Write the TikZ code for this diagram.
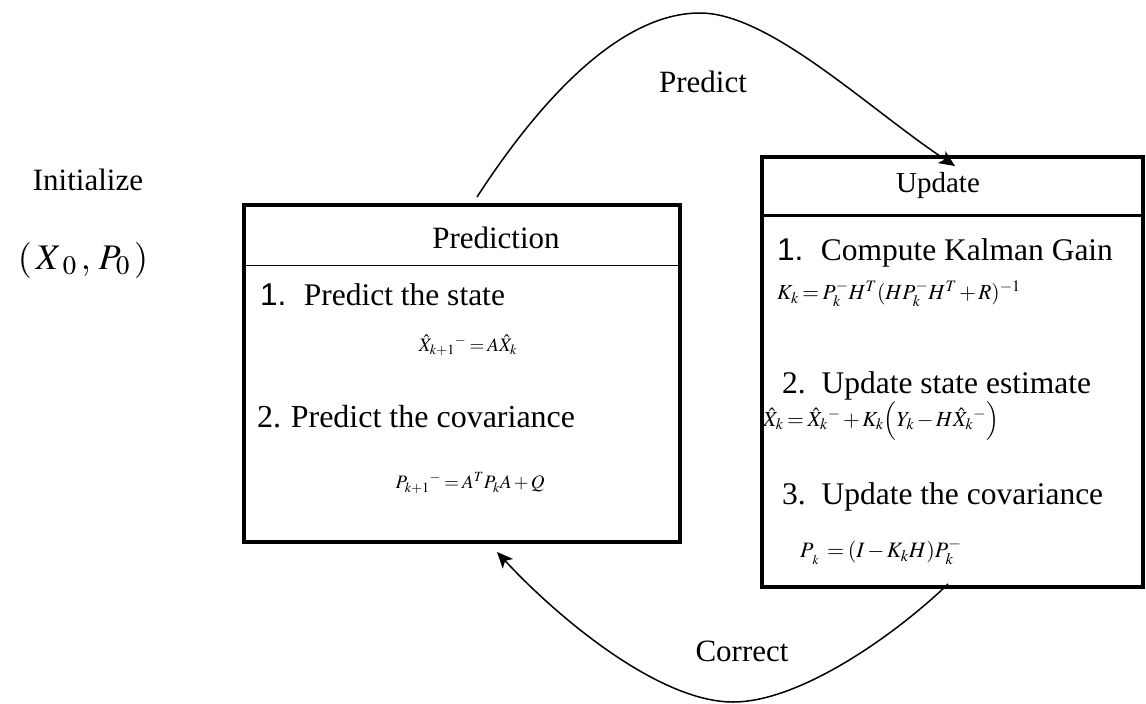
\documentclass[tikz,border=0pt]{standalone}
\usepackage{mathptmx}
\usepackage{fontspec}
\setmainfont{Liberation Serif}
\newfontfamily\arialfont{Liberation Sans}
\usetikzlibrary{arrows.meta,positioning}
\newcommand\tightmath{\medmuskip=2mu\relax\thickmuskip=3mu\relax}
\tikzset{
  >={Stealth[length=16pt,width=14pt,inset=4pt]},
  kbox/.style={draw=black, line width=3.5pt, inner sep=0pt},
  ktitle/.style={font=\fontsize{31}{36}\selectfont, inner sep=0pt},
  kitem/.style={font=\fontsize{31.5}{36}\selectfont, inner sep=0pt, anchor=west},
  keq/.style={font=\fontsize{19}{22}\selectfont, inner sep=0pt},
  kflow/.style={->, line width=1.5pt},
  klbl/.style={font=\fontsize{31}{36}\selectfont, inner sep=0pt},
}

\begin{document}
\begin{tikzpicture}[x=1pt,y=-1pt]

  \useasboundingbox (0,0) rectangle (1146,704);

  % initial values
  \node[klbl] (init) at (88,180) {Initialize};
  \node[klbl, font=\fontsize{36}{40}\selectfont] (x0) at (83,260) {$(\,X_{\;0}\,,\,P_{0}\,)$};

  % prediction box
  \node[kbox, minimum width=436pt, minimum height=337pt] (pred) at (462,373.5) {};
  \draw[line width=1.5pt] ([yshift=-62pt]pred.north west) -- ([yshift=-62pt]pred.north east);
  \node[ktitle] (predttl) at (496,238) {Prediction};
  \node[kitem] (pred1) at (260,295) {{\arialfont 1.}\hspace{0.55em}Predict the state};
  \node[keq] (predeq1) at (468,345) {$\tightmath\hat{X}_{k+1}{}^{-} = A\hat{X}_{k}$};
  \node[kitem, font=\fontsize{32}{36}\selectfont] (pred2) at (257,417) {2.\hspace{0.3em}Predict the covariance};
  \node[keq] (predeq2) at (470,483) {$\tightmath P_{k+1}{}^{-} = A^{T}P_{k}A + Q$};

  % update box
  \node[kbox, minimum width=381pt, minimum height=430pt] (upd) at (952.5,372) {};
  \draw[line width=2.5pt] ([yshift=-60pt]upd.north west) -- ([yshift=-60pt]upd.north east);
  \node[ktitle, font=\fontsize{29}{34}\selectfont] (updttl) at (938,186) {Update};
  \node[kitem] (upd1) at (777,253) {{\arialfont 1.}\hspace{0.55em}Compute Kalman Gain};
  \node[keq, anchor=west, font=\fontsize{21.5}{24}\selectfont] (updeq1) at (777,294) {$\tightmath K_{k} = P_{k}^{-}H^{T}(HP_{k}^{-}H^{T} + R)^{-1}$};
  \node[kitem] (upd2) at (782,386) {2.\hspace{0.5em}Update state estimate};
  \node[keq, anchor=west, font=\fontsize{21.5}{24}\selectfont] (updeq2) at (763,421) {$\tightmath\hat{X}_{k} = \hat{X}_{k}{}^{-} + K_{k}\Bigl(Y_{k} - H\hat{X}_{k}{}^{-}\Bigr)$};
  \node[kitem] (upd3) at (782,497) {3.\hspace{0.5em}Update the covariance};
  \node[keq, anchor=west, font=\fontsize{22}{25}\selectfont] (updeq3) at (800,552) {$\tightmath P_{\,{}_{k}}\;=(I - K_{k}H)P_{k}^{-}$};

  % loop arrows
  \coordinate (predout) at (477,197);
  \coordinate (predtop) at (700,13);
  \coordinate (updin) at (955,166);
  \coordinate (updout) at (948,584);
  \coordinate (corrlow) at (733,702);
  \coordinate (predin) at (497,552);
  \draw[kflow] (predout) .. controls (540,100) and (620,13) .. (predtop)
                         .. controls (770,13) and (870,110) .. (updin);
  \draw[kflow] (updout) .. controls (895,635) and (800,702) .. (corrlow)
                        .. controls (660,702) and (560,620) .. (predin);
  \node[klbl] (predlbl) at (703,82) {Predict};
  \node[klbl] (corrlbl) at (742,651) {Correct};

\end{tikzpicture}
\end{document}
